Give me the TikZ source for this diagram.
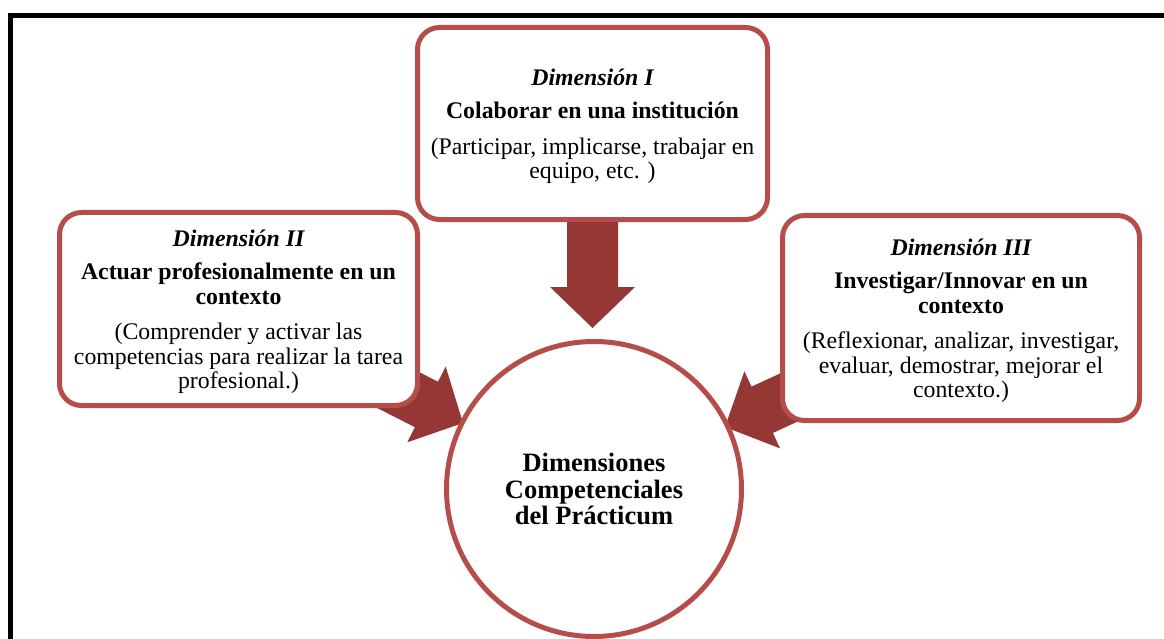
\documentclass[tikz,border=0pt]{standalone}
\usepackage{fontspec}
\setmainfont{Liberation Serif}
\usetikzlibrary{calc,backgrounds}
\definecolor{boxred}{RGB}{181,78,74}
\definecolor{arrowred}{RGB}{149,55,53}
% block arrow from #1 to the tip #2
\newcommand{\blockarrow}[2]{%
  \coordinate (hb) at ($(#2)!41pt!(#1)$);
  \fill[arrowred] ($(#1)!25.5pt!90:(#2)$) -- ($(hb)!25.5pt!90:(#2)$) -- ($(hb)!42.5pt!90:(#2)$) -- (#2)
    -- ($(hb)!42.5pt!-90:(#2)$) -- ($(hb)!25.5pt!-90:(#2)$) -- ($(#1)!25.5pt!-90:(#2)$) -- cycle;}

\begin{document}
\begin{tikzpicture}
		[x=1pt,y=-1pt,
		dimbox/.style ={rectangle, draw=boxred, line width=5pt, fill=white, rounded corners=22pt, align=center, inner sep=0pt, text depth=0pt, font=\fontsize{23.8}{24.5}\selectfont},
		core/.style ={circle, draw=boxred, line width=5pt, fill=white, minimum size=295pt, inner sep=0pt, align=center, font=\fontsize{26.5}{26.8}\selectfont\bfseries},
		frame/.style ={line width=5pt, black, line join=miter},
		]
		\useasboundingbox (0,0) rectangle (1164,639);

		\draw (592.5,123.5) node[dimbox, minimum width=350pt, minimum height=192pt] (dim1)
			{{\bfseries\itshape Dimensión I}\\[9pt]
			{\bfseries Colaborar en una institución}\\[11pt]
			(Participar, implicarse, trabajar en\\
			equipo, etc. )};
		\draw (238.5,309) node[dimbox, minimum width=358pt, minimum height=193pt] (dim2)
			{{\bfseries\itshape Dimensión II}\\[9pt]
			{\bfseries Actuar profesionalmente en un}\\
			{\bfseries contexto}\\[11pt]
			(Comprender y activar las\\
			competencias para realizar la tarea\\
			profesional.)};
		\draw (961,318) node[dimbox, minimum width=357pt, minimum height=205pt] (dim3)
			{{\bfseries\itshape Dimensión III}\\[9pt]
			{\bfseries Investigar/Innovar en un}\\
			{\bfseries contexto}\\[11pt]
			(Reflexionar, analizar, investigar,\\
			evaluar, demostrar, mejorar el\\
			contexto.)};
		\draw (594,489) node[core] (core) {Dimensiones\\Competenciales\\del Prácticum};

		\begin{scope}[on background layer]
			\coordinate (tip1) at (592.5,328);
			\coordinate (tip2) at (463,423);
			\coordinate (tip3) at (725,427);
			\blockarrow{dim1.center}{tip1}
			\blockarrow{dim2.center}{tip2}
			\blockarrow{dim3.center}{tip3}
		\end{scope}

		\draw[frame] (10.5,639) -- (10.5,15.5) -- (1164,15.5);
	\end{tikzpicture}
\end{document}
